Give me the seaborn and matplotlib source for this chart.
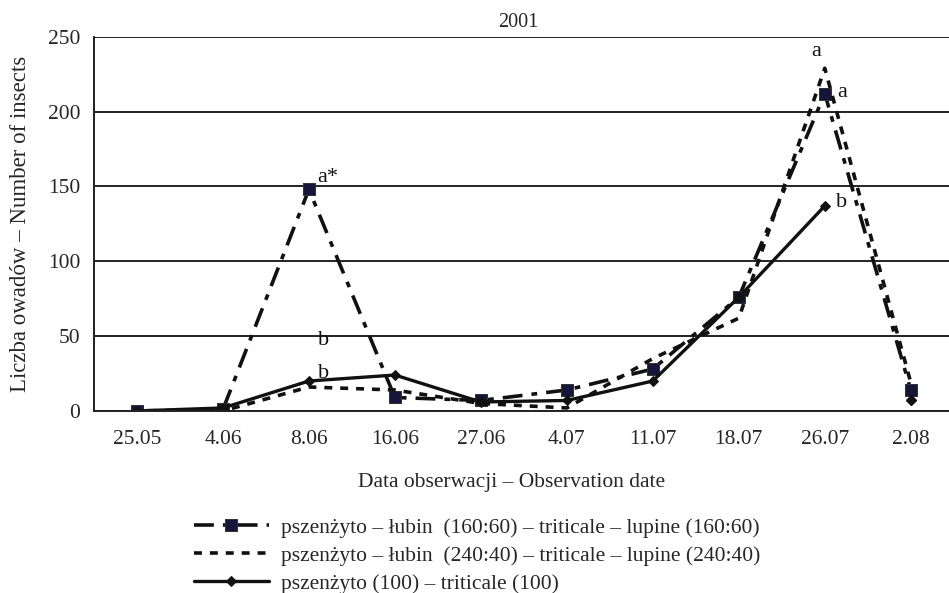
import numpy as np
import pandas as pd
import matplotlib
matplotlib.use('Agg')
import matplotlib.pyplot as plt
import seaborn as sns

# Dane - daty obserwacji i liczba owadow
dates = ['25.05', '4.06', '8.06', '16.06', '27.06', '4.07', '11.07', '18.07', '26.07', '2.08']
seria_160 = [0, 1, 148, 9, 7, 14, 28, 76, 212, 14]
seria_240 = [0, 0, 16, 14, 5, 2, 35, 62, 229, 19]
seria_100 = [0, 2, 20, 24, 6, 7, 20, 76, 137, 7]

lab_160 = 'pszenżyto – łubin  (160:60) – triticale – lupine (160:60)'
lab_240 = 'pszenżyto – łubin  (240:40) – triticale – lupine (240:40)'
lab_100 = 'pszenżyto (100) – triticale (100)'

# litery istotnosci: (indeks daty, przesuniecie x, wartosc y, tekst)
letters = [(2, 0.22, 156, 'a*'), (2, 0.17, 47, 'b'), (2, 0.17, 25, 'b'),
           (8, -0.1, 240, 'a'), (8, 0.2, 213, 'a'), (8, 0.2, 139, 'b')]

FS = 15.5

sns.set_style('white')
plt.rcParams['font.family'] = ['Liberation Serif', 'DejaVu Serif']
plt.rcParams['font.size'] = FS

x = np.arange(len(dates))

fig = plt.figure(figsize=(9.49, 5.93), dpi=100)
ax = fig.add_axes([0.099, 0.307, 0.906, 0.631])

sns.lineplot(x=x, y=seria_160, ax=ax, color='#111111', lw=2.6, sort=False,
             marker='s', markersize=9, markerfacecolor='#16163c',
             markeredgecolor='#333333', dashes=False, label=lab_160)
ax.lines[-1].set_dashes((5.5, 2.5, 1.6, 2.5))

sns.lineplot(x=x, y=seria_240, ax=ax, color='#111111', lw=2.6, sort=False,
             label=lab_240)
ax.lines[-1].set_dashes((2.2, 2.2))

sns.lineplot(x=x[:9], y=seria_100[:9], ax=ax, color='#111111', lw=2.4, sort=False,
             marker='D', markersize=5.5, markeredgecolor='#111111', label=lab_100)
ax.plot(x[9:], seria_100[9:], ls='none', marker='D', markersize=5.5, color='#111111')

for i, dx, y, t in letters:
    ax.text(x[i] + dx, y, t, fontsize=FS + 0.5, ha='center', va='center', color='#111111')

ax.set_xlim(-0.5, len(dates) - 0.5)
ax.set_ylim(0, 250)
ax.set_yticks(np.arange(0, 251, 50))
ax.set_xticks(x)
ax.set_xticklabels(dates)
ax.set_xticks(np.arange(0.5, len(dates) - 0.5, 1), minor=True)
ax.tick_params(axis='x', which='major', length=0, pad=14, labelsize=FS)
ax.tick_params(axis='x', which='minor', length=6, width=1.2, color='#222222', direction='out')
ax.tick_params(axis='y', length=6, width=1.2, color='#222222', direction='out', pad=4, labelsize=FS)
ax.yaxis.grid(True, color='#222222', lw=1.4)
ax.set_axisbelow(True)
for s in ['top', 'right']:
    ax.spines[s].set_visible(False)
for s in ['left', 'bottom']:
    ax.spines[s].set_color('#222222')
    ax.spines[s].set_linewidth(1.4)

ax.set_title('2001', fontsize=FS - 1, pad=7, x=0.494)
ax.set_xlabel('Data obserwacji – Observation date', fontsize=FS)
ax.xaxis.set_label_coords(0.486, -0.167)
ax.set_ylabel('Liczba owadów – Number of insects', fontsize=FS + 1, labelpad=12)

leg = ax.legend(loc='upper left', bbox_to_anchor=(0.106, -0.262), frameon=False,
                handlelength=3.5, handletextpad=0.55, labelspacing=0.37, fontsize=FS,
                borderaxespad=0)

fig.savefig('out.png', dpi=100)
